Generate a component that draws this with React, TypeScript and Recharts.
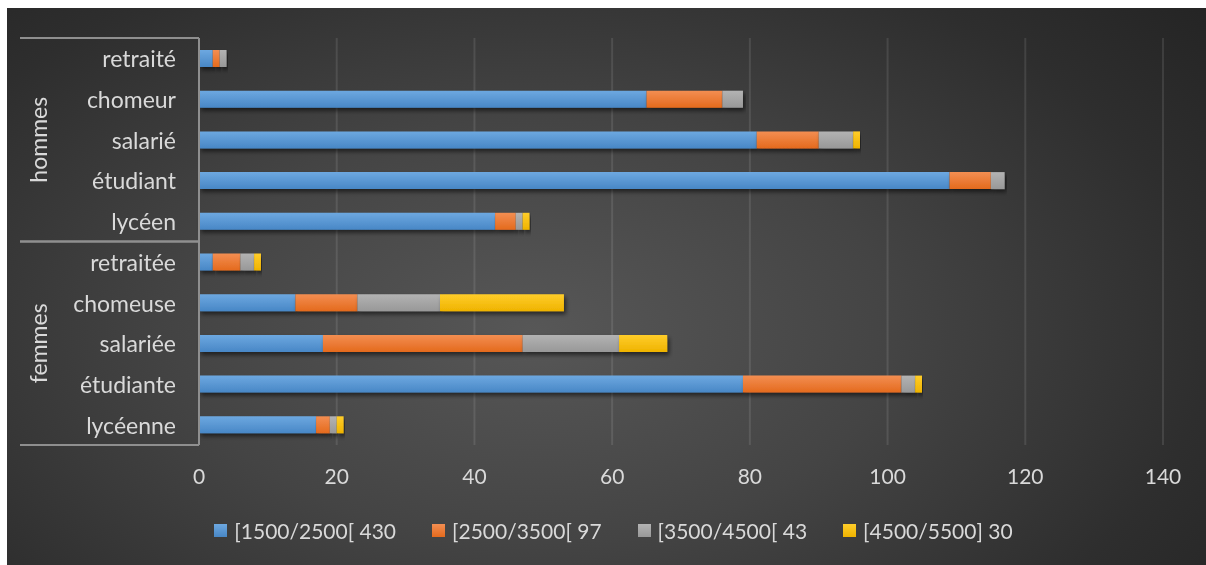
import React from 'react';
import { BarChart, Bar, XAxis, YAxis, CartesianGrid } from 'recharts';

const categories = ['retraité', 'chomeur', 'salarié', 'étudiant', 'lycéen', 'retraitée', 'chomeuse', 'salariée', 'étudiante', 'lycéenne'];
const groups = ['hommes', 'hommes', 'hommes', 'hommes', 'hommes', 'femmes', 'femmes', 'femmes', 'femmes', 'femmes'];
const s1500 = [2, 65, 81, 109, 43, 2, 14, 18, 79, 17];
const s2500 = [1, 11, 9, 6, 3, 4, 9, 29, 23, 2];
const s3500 = [1, 3, 5, 2, 1, 2, 12, 14, 2, 1];
const s4500 = [0, 0, 1, 0, 1, 1, 18, 7, 1, 1];
const seriesNames = ['[1500/2500[ 430', '[2500/3500[ 97', '[3500/4500[ 43', '[4500/5500] 30'];
const xTicks = [0, 20, 40, 60, 80, 100, 120, 140];

const seriesKeys = ['a', 'b', 'c', 'd'];
const gradTop = ['#6da8e0', '#f38e52', '#b3b3b3', '#ffcd2a'];
const gradBottom = ['#4887c6', '#e46a1d', '#989898', '#efb300'];

const data = categories.map((cat, i) => ({
  cat,
  group: groups[i],
  a: s1500[i],
  b: s2500[i],
  c: s3500[i],
  d: s4500[i],
}));

const W = 1199;
const H = 557;
const MARGIN = { top: 30, right: 43, bottom: 80, left: 13 };
const GROUP_W = 40;
const ITEM_W = 139;
const PLOT_LEFT = MARGIN.left + GROUP_W + ITEM_W;
const PLOT_H = H - MARGIN.top - MARGIN.bottom - 40;
const FONT = 'Lato, "Open Sans", sans-serif';
const TEXT = '#d9d9d9';
const LINE = '#8f8f8f';
const FS = 21;
const FS_CAT = 23;

const ItemTick = (props: any) => {
  const { x, y, payload } = props;
  return (
    <text x={x} y={y} textAnchor="end" dominantBaseline="central" fill={TEXT} fontSize={FS_CAT} fontFamily={FONT}>
      {payload.value}
    </text>
  );
};

const GroupTick = (props: any) => {
  const { y, payload } = props;
  const half = payload && typeof payload.offset === 'number' && payload.offset > 0 ? payload.offset : PLOT_H / 4;
  const lx = MARGIN.left + 18;
  return (
    <g>
      <line x1={MARGIN.left} x2={PLOT_LEFT} y1={y - half} y2={y - half} stroke={LINE} strokeWidth={2} />
      <line x1={MARGIN.left} x2={PLOT_LEFT} y1={y + half} y2={y + half} stroke={LINE} strokeWidth={2} />
      <text
        x={lx}
        y={y}
        transform={`rotate(-90, ${lx}, ${y})`}
        textAnchor="middle"
        dominantBaseline="central"
        fill={TEXT}
        fontSize={FS_CAT}
        fontFamily={FONT}
      >
        {payload.value}
      </text>
    </g>
  );
};

const LegendBox = () => (
  <div
    style={{
      position: 'absolute',
      left: 0,
      top: 508,
      width: W,
      height: 28,
      display: 'flex',
      justifyContent: 'center',
      alignItems: 'center',
      paddingLeft: 14,
      boxSizing: 'border-box',
      fontFamily: FONT,
      fontSize: FS,
      color: TEXT,
    }}
  >
    {seriesNames.map((name, i) => (
      <div key={name} style={{ display: 'flex', alignItems: 'center', marginRight: i < seriesNames.length - 1 ? 36 : 0 }}>
        <div
          style={{
            width: 13,
            height: 13,
            background: `linear-gradient(${gradTop[i]}, ${gradBottom[i]})`,
            marginRight: 7,
          }}
        />
        <span style={{ whiteSpace: 'nowrap' }}>{name}</span>
      </div>
    ))}
  </div>
);

export default function App() {
  return (
    <div
      style={{
        position: 'fixed',
        left: 7,
        top: 8,
        width: W,
        height: H,
        background: 'radial-gradient(ellipse 75% 95% at 44% 58%, #575757 0%, #444444 40%, #2e2e2e 75%, #232323 100%)',
      }}
    >
      <BarChart width={W} height={H} data={data} layout="vertical" margin={MARGIN} barSize={17} style={{ fontFamily: FONT }}>
        <defs>
          {seriesKeys.map((k, i) => (
            <linearGradient key={k} id={`grad-${k}`} x1="0" y1="0" x2="0" y2="1">
              <stop offset="0%" stopColor={gradTop[i]} />
              <stop offset="100%" stopColor={gradBottom[i]} />
            </linearGradient>
          ))}
          <filter id="barShadow" x="-5%" y="-30%" width="115%" height="190%">
            <feDropShadow dx="2" dy="3" stdDeviation="2" floodColor="#000" floodOpacity="0.55" />
          </filter>
        </defs>
        <CartesianGrid horizontal={false} vertical stroke="rgba(255,255,255,0.1)" strokeWidth={2} yAxisId="item" />
        <XAxis
          type="number"
          domain={[0, 140]}
          ticks={xTicks}
          axisLine={false}
          tickLine={false}
          tickMargin={18}
          tick={{ fill: TEXT, fontSize: FS, fontFamily: FONT }}
          height={40}
        />
        <YAxis
          yAxisId="item"
          type="category"
          dataKey="cat"
          width={ITEM_W}
          interval={0}
          axisLine={{ stroke: LINE, strokeWidth: 2 }}
          tickLine={false}
          tickMargin={17}
          tick={<ItemTick />}
        />
        <YAxis
          yAxisId="zgroup"
          type="category"
          dataKey="group"
          allowDuplicatedCategory={false}
          width={GROUP_W}
          interval={0}
          axisLine={false}
          tickLine={false}
          tick={<GroupTick />}
        />
        {seriesKeys.map((k, i) => (
          <Bar
            key={k}
            dataKey={k}
            name={seriesNames[i]}
            stackId="s"
            yAxisId="item"
            fill={`url(#grad-${k})`}
            isAnimationActive={false}
            style={{ filter: 'url(#barShadow)' }}
          />
        ))}
      </BarChart>
      <LegendBox />
    </div>
  );
}
